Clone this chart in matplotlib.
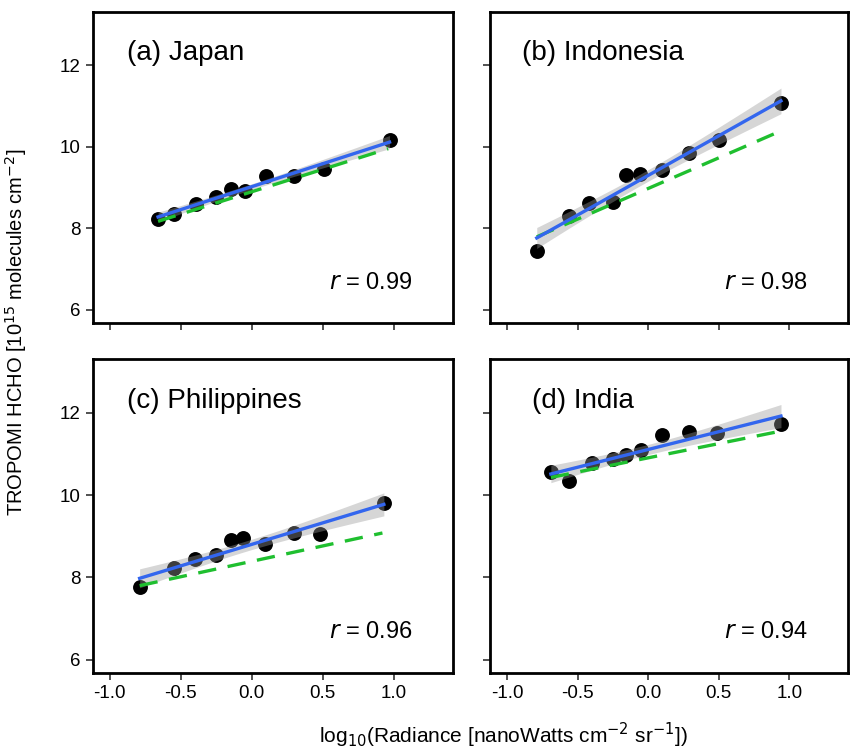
import numpy as np
import matplotlib
matplotlib.use("Agg")
import matplotlib.pyplot as plt

plt.rcParams['font.family'] = ['Liberation Sans', 'DejaVu Sans']

# panel labels
titles = ["(a) Japan", "(b) Indonesia", "(c) Philippines", "(d) India"]
r_values = ["0.99", "0.98", "0.96", "0.94"]

# log10 radiance (x) and TROPOMI HCHO (y) per country
x_japan = [-0.66, -0.55, -0.39, -0.25, -0.15, -0.05, 0.10, 0.30, 0.51, 0.97]
y_japan = [8.23, 8.35, 8.60, 8.76, 8.97, 8.92, 9.29, 9.27, 9.46, 10.16]

x_indonesia = [-0.79, -0.56, -0.42, -0.25, -0.16, -0.06, 0.10, 0.29, 0.50, 0.94]
y_indonesia = [7.45, 8.31, 8.62, 8.65, 9.31, 9.33, 9.42, 9.84, 10.17, 11.07]

x_philippines = [-0.79, -0.55, -0.40, -0.25, -0.15, -0.06, 0.09, 0.30, 0.48, 0.93]
y_philippines = [7.76, 8.22, 8.44, 8.55, 8.91, 8.96, 8.82, 9.09, 9.06, 9.81]

x_india = [-0.69, -0.56, -0.40, -0.25, -0.16, -0.05, 0.10, 0.29, 0.49, 0.94]
y_india = [10.57, 10.34, 10.77, 10.87, 10.98, 11.09, 11.46, 11.54, 11.51, 11.72]

# green dashed reference line end points (x0, x1, y0, y1)
green_japan = [-0.66, 0.96, 8.17, 9.95]
green_indonesia = [-0.79, 0.935, 7.79, 10.38]
green_philippines = [-0.79, 0.92, 7.80, 9.08]
green_india = [-0.69, 0.93, 10.43, 11.55]

xs = [x_japan, x_indonesia, x_philippines, x_india]
ys = [y_japan, y_indonesia, y_philippines, y_india]
greens = [green_japan, green_indonesia, green_philippines, green_india]
title_x = [0.096, 0.089, 0.094, 0.116]

fig = plt.figure(figsize=(8.51, 7.51), dpi=100)
boxes = [
    [0.109, 0.570, 0.423, 0.414],
    [0.576, 0.570, 0.4205, 0.414],
    [0.109, 0.104, 0.423, 0.4175],
    [0.576, 0.104, 0.4205, 0.4175],
]

for i in range(4):
    ax = fig.add_axes(boxes[i])
    x = np.array(xs[i])
    y = np.array(ys[i])

    ax.scatter(x, y, s=115, color='black', zorder=2, linewidths=0)

    # linear fit with 95% confidence band
    slope, icpt = np.polyfit(x, y, 1)
    xf = np.linspace(x.min(), x.max(), 80)
    yf = icpt + slope * xf
    n = len(x)
    resid = y - (icpt + slope * x)
    s = np.sqrt(np.sum(resid ** 2) / (n - 2))
    sxx = np.sum((x - x.mean()) ** 2)
    se = s * np.sqrt(1.0 / n + (xf - x.mean()) ** 2 / sxx)
    t = 2.306
    ax.fill_between(xf, yf - t * se, yf + t * se, color='#999999', alpha=0.4,
                    linewidth=0, zorder=3)

    g = greens[i]
    ax.plot(g[:2], g[2:], color='#1fbf2f', lw=2.4, ls=(0, (5.5, 3.5)), zorder=4)
    ax.plot(xf, yf, color='#3366ee', lw=2.4, zorder=5)

    ax.text(title_x[i], 12.3, titles[i], transform=ax.get_yaxis_transform(),
            fontsize=20, va='center', ha='left')
    ax.text(1.13, 6.67, r"$\it{r}$ = " + r_values[i], fontsize=17,
            va='center', ha='right')

    ax.set_xlim(-1.12, 1.415)
    ax.set_ylim(5.68, 13.3)
    ax.set_xticks([-1.0, -0.5, 0.0, 0.5, 1.0])
    ax.set_yticks([6, 8, 10, 12])
    ax.tick_params(direction='out', length=5, width=1.2, labelsize=13.5,
                   color='#333333')
    for sp in ax.spines.values():
        sp.set_linewidth(2)
    if i in (0, 1):
        ax.set_xticklabels([])
    else:
        ax.set_xticklabels(["-1.0", "-0.5", "0.0", "0.5", "1.0"])
    if i in (1, 3):
        ax.set_yticklabels([])

fig.text(0.019, 0.558, r"TROPOMI HCHO [10$^{15}$ molecules cm$^{-2}$]",
         rotation=90, ha='center', va='center', fontsize=14.5)
fig.text(0.592, 0.021, r"log$_{10}$(Radiance [nanoWatts cm$^{-2}$ sr$^{-1}$])",
         ha='center', va='center', fontsize=15)

fig.savefig("out.png", dpi=100)
